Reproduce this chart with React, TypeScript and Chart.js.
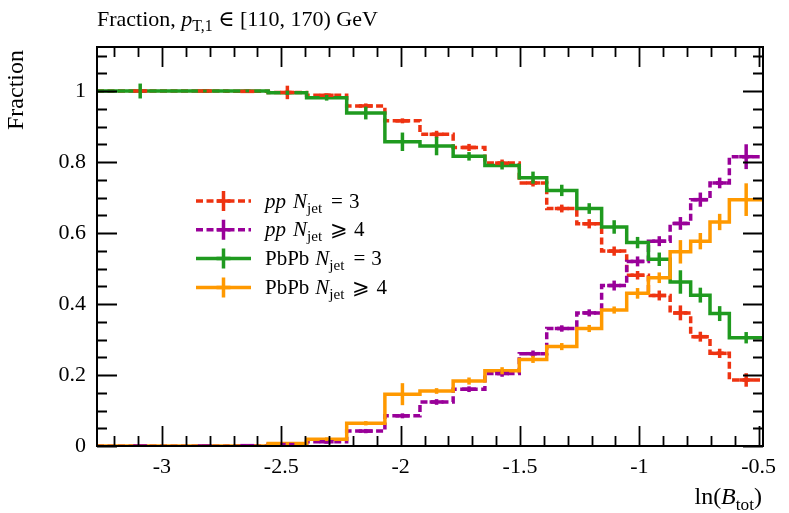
import React, { useEffect, useRef } from "react";
import { Chart, registerables } from "chart.js";

Chart.register(...registerables);

// ---------- data ----------
const binEdges = [
  -3.272, -2.91, -2.73, -2.555, -2.394, -2.226, -2.066, -1.919, -1.78, -1.647,
  -1.503, -1.388, -1.262, -1.158, -1.053, -0.962, -0.871, -0.785, -0.704, -0.623, -0.482,
];

const ppNjet3 = [1.0, 1.0, 0.999, 0.996, 0.988, 0.958, 0.916, 0.878, 0.841, 0.797, 0.741, 0.669, 0.626, 0.549, 0.481, 0.424, 0.375, 0.308, 0.261, 0.186];
const ppNjet4 = [0.0, 0.0, 0.001, 0.004, 0.012, 0.042, 0.085, 0.124, 0.16, 0.204, 0.26, 0.331, 0.375, 0.452, 0.52, 0.577, 0.627, 0.694, 0.741, 0.815];
const pbNjet3 = [1.0, 1.0, 1.0, 0.995, 0.981, 0.938, 0.857, 0.845, 0.816, 0.79, 0.756, 0.72, 0.669, 0.617, 0.573, 0.526, 0.462, 0.425, 0.373, 0.305];
const pbNjet4 = [0.0, 0.0, 0.0, 0.007, 0.019, 0.064, 0.146, 0.155, 0.183, 0.212, 0.244, 0.28, 0.331, 0.383, 0.43, 0.474, 0.547, 0.577, 0.631, 0.694];

const ppNjet3Err = [0.003, 0.002, 0.003, 0.019, 0.005, 0.007, 0.007, 0.01, 0.01, 0.01, 0.01, 0.011, 0.013, 0.013, 0.012, 0.014, 0.021, 0.014, 0.013, 0.019];
const ppNjet4Err = [0.002, 0.002, 0.003, 0.006, 0.005, 0.006, 0.007, 0.008, 0.008, 0.009, 0.009, 0.009, 0.01, 0.014, 0.014, 0.014, 0.018, 0.02, 0.015, 0.035];
const pbNjet3Err = [0.021, 0.004, 0.004, 0.006, 0.008, 0.018, 0.026, 0.026, 0.012, 0.011, 0.017, 0.016, 0.015, 0.019, 0.016, 0.019, 0.033, 0.021, 0.021, 0.016];
const pbNjet4Err = [0.002, 0.002, 0.003, 0.004, 0.005, 0.006, 0.031, 0.008, 0.01, 0.01, 0.01, 0.01, 0.01, 0.01, 0.015, 0.015, 0.033, 0.023, 0.023, 0.046];

const xMajorTicks = [-3, -2.5, -2, -1.5, -1, -0.5];
const yMajorTicks = [0, 0.2, 0.4, 0.6, 0.8, 1];
const xMinorStep = 0.1;
const yMinorStep = 0.05;

const X_MIN = -3.272;
const X_MAX = -0.482;
const Y_MIN = 0;
const Y_MAX = 1.124;

const RED = "#ee3311";
const PURPLE = "#990099";
const GREEN = "#1f9a1f";
const ORANGE = "#ff9900";

const SERIF = '"Liberation Serif", "DejaVu Serif", serif';

type Part = { t: string; it?: boolean; sub?: boolean; pre?: number };

const series = [
  { label: [{ t: "pp", it: true }, { t: "N", it: true, pre: 7 }, { t: "jet", sub: true }, { t: "=", pre: 9 }, { t: "3", pre: 6 }] as Part[], values: ppNjet3, errs: ppNjet3Err, color: RED, dashed: true, order: 4 },
  { label: [{ t: "pp", it: true }, { t: "N", it: true, pre: 7 }, { t: "jet", sub: true }, { t: "\u2A7E", pre: 8 }, { t: "4", pre: 6 }] as Part[], values: ppNjet4, errs: ppNjet4Err, color: PURPLE, dashed: true, order: 3 },
  { label: [{ t: "PbPb" }, { t: "N", it: true, pre: 6 }, { t: "jet", sub: true }, { t: "=", pre: 9 }, { t: "3", pre: 6 }] as Part[], values: pbNjet3, errs: pbNjet3Err, color: GREEN, dashed: false, order: 2 },
  { label: [{ t: "PbPb" }, { t: "N", it: true, pre: 6 }, { t: "jet", sub: true }, { t: "\u2A7E", pre: 8 }, { t: "4", pre: 6 }] as Part[], values: pbNjet4, errs: pbNjet4Err, color: ORANGE, dashed: false, order: 1 },
];

const LINE_W = 3.5;
const DASH = [7, 3.5];

function setFont(ctx: CanvasRenderingContext2D, size: number, p: Part, subScale: number) {
  const s = p.sub ? size * subScale : size;
  ctx.font = `${p.it ? "italic " : ""}${s}px ${SERIF}`;
}

function richWidth(ctx: CanvasRenderingContext2D, parts: Part[], size: number, subScale = 0.72) {
  let w = 0;
  for (const p of parts) {
    setFont(ctx, size, p, subScale);
    w += (p.pre || 0) + ctx.measureText(p.t).width;
  }
  return w;
}

function drawRich(ctx: CanvasRenderingContext2D, x: number, y: number, parts: Part[], size: number, subScale = 0.72) {
  let cx = x;
  ctx.textAlign = "left";
  ctx.textBaseline = "alphabetic";
  ctx.fillStyle = "#000";
  for (const p of parts) {
    setFont(ctx, size, p, subScale);
    cx += p.pre || 0;
    ctx.fillText(p.t, cx, p.sub ? y + size * 0.24 : y);
    cx += ctx.measureText(p.t).width;
  }
}

const decorPlugin = {
  id: "decor",
  afterDatasetsDraw(chart: any) {
    const ctx: CanvasRenderingContext2D = chart.ctx;
    const xs = chart.scales.x;
    const ys = chart.scales.y;
    const { left, right, top, bottom } = chart.chartArea;

    // error bars
    ctx.save();
    ctx.beginPath();
    ctx.rect(left, top, right - left, bottom - top);
    ctx.clip();
    for (const s of [...series].sort((a, b) => b.order - a.order)) {
      ctx.strokeStyle = s.color;
      ctx.lineWidth = LINE_W;
      ctx.setLineDash([]);
      ctx.lineCap = "butt";
      for (let i = 0; i < s.values.length; i++) {
        const cx = xs.getPixelForValue((binEdges[i] + binEdges[i + 1]) / 2);
        const v = s.values[i];
        const e = s.errs[i];
        ctx.beginPath();
        ctx.moveTo(cx, ys.getPixelForValue(v - e));
        ctx.lineTo(cx, ys.getPixelForValue(v + e));
        ctx.stroke();
        if (s.dashed) {
          const py = ys.getPixelForValue(v);
          ctx.beginPath();
          ctx.moveTo(cx - 7, py);
          ctx.lineTo(cx + 7, py);
          ctx.stroke();
        }
      }
    }
    ctx.restore();

    // frame and inward ticks
    ctx.save();
    ctx.strokeStyle = "#000";
    ctx.setLineDash([]);
    ctx.lineWidth = 1.8;
    const isMajor = (arr: number[], v: number) => arr.some((m) => Math.abs(m - v) < 1e-6);
    for (let k = Math.ceil(X_MIN / xMinorStep); k <= Math.floor(X_MAX / xMinorStep); k++) {
      const v = k * xMinorStep;
      const px = Math.round(xs.getPixelForValue(v)) + 0.5;
      const len = isMajor(xMajorTicks, v) ? 20 : 10;
      ctx.beginPath();
      ctx.moveTo(px, bottom);
      ctx.lineTo(px, bottom - len);
      ctx.moveTo(px, top);
      ctx.lineTo(px, top + len);
      ctx.stroke();
    }
    for (let k = Math.ceil(Y_MIN / yMinorStep); k <= Math.floor(Y_MAX / yMinorStep + 1e-9); k++) {
      const v = k * yMinorStep;
      const py = Math.round(ys.getPixelForValue(v)) + 0.5;
      const len = isMajor(yMajorTicks, v) ? 20 : 10;
      ctx.beginPath();
      ctx.moveTo(left, py);
      ctx.lineTo(left + len, py);
      ctx.moveTo(right, py);
      ctx.lineTo(right - len, py);
      ctx.stroke();
    }
    ctx.lineWidth = 2;
    ctx.strokeRect(left, top, right - left, bottom - top);
    ctx.restore();
  },
  afterDraw(chart: any) {
    const ctx: CanvasRenderingContext2D = chart.ctx;
    const { left, right, top } = chart.chartArea;
    ctx.save();

    // title
    drawRich(ctx, left, 26, [
      { t: "Fraction, " },
      { t: "p", it: true },
      { t: "T,1", sub: true },
      { t: " \u2208 [110, 170) GeV" },
    ], 22);

    // y title (rotated)
    ctx.save();
    ctx.translate(23, top + 3);
    ctx.rotate(-Math.PI / 2);
    ctx.font = `24px ${SERIF}`;
    ctx.textAlign = "right";
    ctx.textBaseline = "alphabetic";
    ctx.fillStyle = "#000";
    ctx.fillText("Fraction", 0, 0);
    ctx.restore();

    // x title
    const xt: Part[] = [{ t: "ln(" }, { t: "B", it: true }, { t: "tot", sub: true }, { t: ")" }];
    const w = richWidth(ctx, xt, 24);
    drawRich(ctx, right - 1 - w, 504, xt, 24);

    // legend
    const x0 = 196;
    const x1 = 251;
    const xc = 223.5;
    series.forEach((s, i) => {
      const y = 201 + i * 28.8;
      ctx.strokeStyle = s.color;
      ctx.lineWidth = LINE_W;
      ctx.lineCap = "butt";
      ctx.setLineDash(s.dashed ? DASH : []);
      ctx.beginPath();
      ctx.moveTo(x0, y);
      ctx.lineTo(x1, y);
      ctx.stroke();
      ctx.setLineDash([]);
      ctx.beginPath();
      ctx.moveTo(xc, y - 10);
      ctx.lineTo(xc, y + 10);
      ctx.moveTo(xc - 7, y);
      ctx.lineTo(xc + 7, y);
      ctx.stroke();
      drawRich(ctx, 265, y + 6.5, s.label, 21);
    });

    ctx.restore();
  },
};

export default function App() {
  const canvasRef = useRef<HTMLCanvasElement | null>(null);

  useEffect(() => {
    if (!canvasRef.current) return;
    const datasets = series.map((s) => ({
      type: "line" as const,
      label: s.label.map((p) => p.t).join(" "),
      data: binEdges.map((e, i) => ({ x: e, y: s.values[Math.min(i, s.values.length - 1)] })),
      borderColor: s.color,
      backgroundColor: s.color,
      borderWidth: LINE_W,
      borderDash: s.dashed ? DASH : [],
      stepped: "before" as const,
      pointRadius: 0,
      pointHoverRadius: 0,
      fill: false,
      order: s.order,
    }));

    const chart = new Chart(canvasRef.current, {
      type: "line",
      data: { datasets },
      options: {
        animation: false,
        responsive: false,
        events: [],
        layout: { padding: { top: 47, right: 26, left: 0, bottom: 0 } },
        plugins: { legend: { display: false }, tooltip: { enabled: false }, title: { display: false } },
        scales: {
          x: {
            type: "linear",
            min: X_MIN,
            max: X_MAX,
            grid: { display: false, drawTicks: false },
            border: { display: false },
            afterBuildTicks: (scale: any) => {
              scale.ticks = xMajorTicks.map((v) => ({ value: v }));
            },
            afterFit: (scale: any) => {
              scale.height = 67;
            },
            ticks: {
              autoSkip: false,
              maxRotation: 0,
              padding: 8,
              color: "#000",
              font: { family: SERIF, size: 22 },
              callback: (v: any) => String(v),
            },
          },
          y: {
            type: "linear",
            min: Y_MIN,
            max: Y_MAX,
            grid: { display: false, drawTicks: false },
            border: { display: false },
            afterBuildTicks: (scale: any) => {
              scale.ticks = yMajorTicks.map((v) => ({ value: v }));
            },
            afterFit: (scale: any) => {
              scale.width = 97;
            },
            ticks: {
              autoSkip: false,
              padding: 11,
              color: "#000",
              font: { family: SERIF, size: 22 },
              callback: (v: any) => String(v),
            },
          },
        },
      },
      plugins: [decorPlugin],
    } as any);

    return () => chart.destroy();
  }, []);

  return (
    <div style={{ position: "absolute", left: 0, top: 0, width: 789, height: 513, background: "#fff" }}>
      <canvas ref={canvasRef} width={789} height={513} style={{ display: "block" }} />
    </div>
  );
}
